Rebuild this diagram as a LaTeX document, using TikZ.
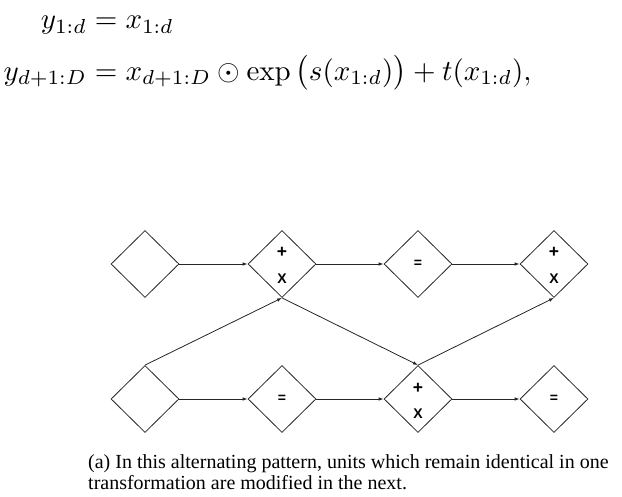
\documentclass[tikz,border=0pt]{standalone}
\usepackage{amsmath}
\usepackage{graphicx}
\usepackage{fontspec}
\newfontfamily\capfont{Liberation Serif}
\newfontfamily\arialfont{Liberation Sans}
\usetikzlibrary{shapes.geometric,arrows.meta}
\newcommand{\pxtop}{\rule{0pt}{14pt}}
\newcommand{\bigplus}{\scalebox{1.25}{+}}
\begin{document}
\begin{tikzpicture}[x=1pt,y=-1pt,
  dia/.style={draw=black!85,line width=0.8pt,diamond,shape aspect=1,inner sep=0pt,
    minimum width=68pt,minimum height=67pt,align=center,
    font=\arialfont\bfseries\fontsize{14}{26}\selectfont},
  arr/.style={draw=black!85,line width=0.8pt,-{Latex[length=5pt,width=3.5pt]}}]
\useasboundingbox (0,0) rectangle (622,497);
% equations
\node[anchor=base west,inner sep=0pt,scale=2.9] (eq) at (3,29)
  {$\begin{aligned}[t] y_{1:d} &= x_{1:d}\\[1.5pt]
   y_{d+1:D} &= x_{d+1:D}\odot\exp\big(s(x_{1:d})\big)+t(x_{1:d}),\end{aligned}$};
% diamonds
\node[dia] (a1) at (145,264) {};
\node[dia] (b1) at (282,264) {\pxtop\bigplus\\X};
\node[dia] (c1) at (418,264) {=};
\node[dia] (d1) at (554,264) {\pxtop\bigplus\\X};
\node[dia] (a2) at (145,399) {};
\node[dia] (b2) at (282,399) {=};
\node[dia] (c2) at (418,399) {\pxtop\bigplus\\X};
\node[dia] (d2) at (554,399) {=};
% connectors
\draw[arr] (a1.east) -- (b1.west);
\draw[arr] (b1.east) -- (c1.west);
\draw[arr] (c1.east) -- (d1.west);
\draw[arr] (a2.east) -- (b2.west);
\draw[arr] (b2.east) -- (c2.west);
\draw[arr] (c2.east) -- (d2.west);
\draw[arr] (a2.north) -- (b1.south);
\draw[arr] (b1.south) -- (c2.north);
\draw[arr] (c2.north) -- (d1.south);
% caption
\node[anchor=base west,inner sep=0pt] (cap) at (88,468)
  {\parbox[t]{530pt}{\capfont\fontsize{20}{21}\selectfont
   (a) In this alternating pattern, units which remain identical in one\\
   transformation are modified in the next.}};
\end{tikzpicture}
\end{document}
